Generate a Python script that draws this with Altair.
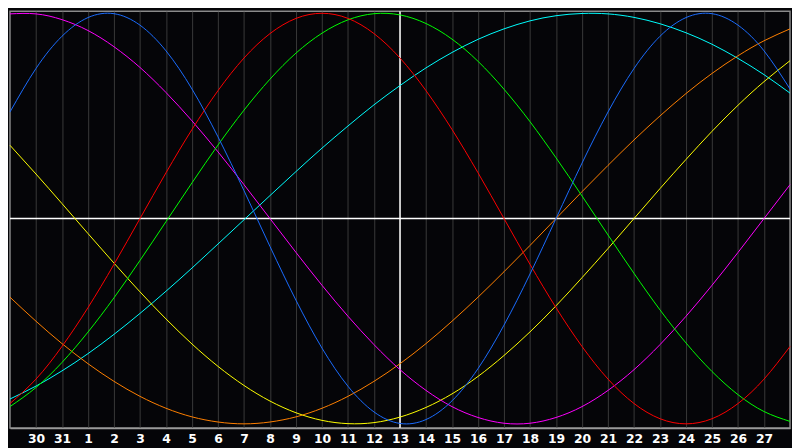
import altair as alt
import pandas as pd

# x positions: day index across the view (0 = left edge, 30 = right edge)
day_index = list(range(31))
day_labels = ["29", "30", "31", "1", "2", "3", "4", "5", "6", "7", "8", "9", "10",
              "11", "12", "13", "14", "15", "16", "17", "18", "19", "20", "21",
              "22", "23", "24", "25", "26", "27", "28"]
tick_index = list(range(1, 30))
today_index = 15

# cycle values (-1 .. 1), one per day
physical = [0.519, 0.731, 0.888, 0.979, 0.998, 0.942, 0.817, 0.631, 0.398, 0.136,
            -0.136, -0.398, -0.631, -0.817, -0.942, -0.998, -0.979, -0.888, -0.731, -0.519,
            -0.270, 0.000, 0.270, 0.519, 0.731, 0.888, 0.979, 0.998, 0.942, 0.817, 0.631]
emotional = [-0.901, -0.782, -0.623, -0.434, -0.223, 0.000, 0.223, 0.434, 0.623, 0.782,
             0.901, 0.975, 1.000, 0.975, 0.901, 0.782, 0.623, 0.434, 0.223, 0.000,
             -0.223, -0.434, -0.623, -0.782, -0.901, -0.975, -1.000, -0.975, -0.901, -0.782, -0.623]
intellectual = [-0.916, -0.823, -0.701, -0.553, -0.386, -0.204, -0.015, 0.174, 0.358, 0.528,
                0.679, 0.806, 0.903, 0.968, 0.998, 0.992, 0.950, 0.874, 0.766, 0.630,
                0.472, 0.296, 0.110, -0.080, -0.267, -0.445, -0.606, -0.745, -0.858, -0.940, -0.988]
intuitive = [0.997, 0.997, 0.969, 0.916, 0.837, 0.736, 0.614, 0.476, 0.325, 0.165,
             0.000, -0.165, -0.325, -0.476, -0.614, -0.736, -0.837, -0.916, -0.969, -0.997,
             -0.997, -0.969, -0.916, -0.837, -0.736, -0.614, -0.476, -0.325, -0.165, 0.000, 0.165]
aesthetic = [0.357, 0.217, 0.073, -0.073, -0.217, -0.357, -0.489, -0.611, -0.720, -0.813,
             -0.889, -0.946, -0.983, -0.999, -0.994, -0.967, -0.920, -0.854, -0.769, -0.667,
             -0.552, -0.425, -0.288, -0.146, 0.000, 0.146, 0.288, 0.425, 0.552, 0.667, 0.769]
awareness = [-0.383, -0.500, -0.609, -0.707, -0.793, -0.866, -0.924, -0.966, -0.991, -1.000,
             -0.991, -0.966, -0.924, -0.866, -0.793, -0.707, -0.609, -0.500, -0.383, -0.259,
             -0.131, 0.000, 0.131, 0.259, 0.383, 0.500, 0.609, 0.707, 0.793, 0.866, 0.924]
spiritual = [-0.879, -0.816, -0.742, -0.658, -0.564, -0.462, -0.354, -0.241, -0.124, -0.006,
             0.112, 0.229, 0.343, 0.451, 0.554, 0.648, 0.734, 0.809, 0.873, 0.924,
             0.963, 0.988, 0.999, 0.997, 0.980, 0.949, 0.905, 0.849, 0.780, 0.701, 0.611]

series_names = ["Spiritual", "Awareness", "Aesthetic", "Intuitive",
                "Intellectual", "Emotional", "Physical"]
series_values = [spiritual, awareness, aesthetic, intuitive,
                 intellectual, emotional, physical]
series_colors = ["#00ffff", "#ff8000", "#ffff00", "#ff00ff",
                 "#00ff00", "#ff0000", "#1a6cff"]

rows = []
for order, (name, vals) in enumerate(zip(series_names, series_values)):
    for i, v in zip(day_index, vals):
        rows.append({"day": i, "value": v, "cycle": name, "order": order})
df = pd.DataFrame(rows)

label_expr = "[" + ",".join("'" + s + "'" for s in day_labels) + "][datum.value]"

x_scale = alt.Scale(domain=[0, 30], nice=False, zero=False)
y_scale = alt.Scale(domain=[-1.02, 1.01], nice=False, zero=False)

x_axis = alt.Axis(values=tick_index, labelExpr=label_expr, grid=True,
                  gridColor="#3a3a3a", gridWidth=1, ticks=False,
                  domainColor="#9a9a9a", domainWidth=1.5,
                  labelColor="#ffffff", labelFont="DejaVu Sans",
                  labelFontWeight="bold", labelFontSize=12.5, labelPadding=5,
                  labelFlush=False, labelOverlap=False, title=None)

lines = alt.Chart(df).mark_line(strokeWidth=1, interpolate="natural").encode(
    x=alt.X("day:Q", scale=x_scale, axis=x_axis),
    y=alt.Y("value:Q", scale=y_scale, axis=None),
    color=alt.Color("cycle:N", scale=alt.Scale(domain=series_names, range=series_colors), legend=None),
    order=alt.Order("order:Q"),
)

hline = alt.Chart(pd.DataFrame({"v": [0]})).mark_rule(color="#ffffff", strokeWidth=1.5).encode(
    y=alt.Y("v:Q", scale=y_scale, axis=None)
)
vline = alt.Chart(pd.DataFrame({"d": [today_index]})).mark_rule(color="#ffffff", strokeWidth=1.5).encode(
    x=alt.X("d:Q", scale=x_scale, axis=x_axis)
)

chart = alt.layer(hline, vline, lines).properties(
    width=792, height=440, padding=0,
    autosize=alt.AutoSizeParams(type="fit", contains="padding"),
    background="#050508",
).configure_view(stroke="#8a8a8a", strokeWidth=1.5, fill="#050508")

chart.save("out.html", embed_options={"renderer": "svg", "actions": False})
